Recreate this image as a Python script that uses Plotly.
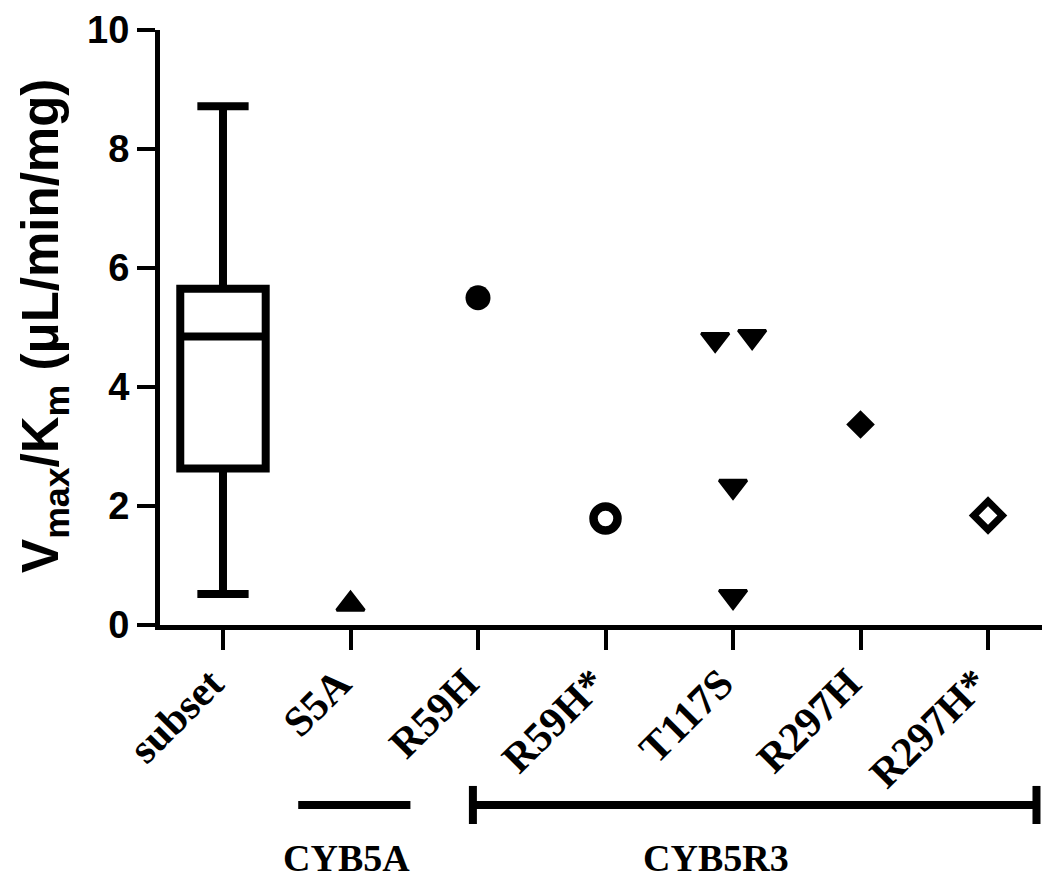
import plotly.graph_objects as go

# ---- data ----
categories = ["subset", "S5A", "R59H", "R59H*", "T117S", "R297H", "R297H*"]

# box summary for "subset"
box_lower = 0.52
box_q1 = 2.63
box_median = 4.85
box_q3 = 5.65
box_upper = 8.72

# individual variant points
s5a_vals = [0.35]
r59h_vals = [5.50]
r59hs_vals = [1.79]
t117s_vals = [4.80, 4.85, 2.33, 0.48]
t117s_jitter = [-0.14, 0.15, 0.0, 0.0]
r297h_vals = [3.37]
r297hs_vals = [1.84]

groups = ["CYB5A", "CYB5R3"]
group_start = [0.59, 1.96]
group_end = [1.47, 6.38]
group_label_x = [0.97, 3.87]
group_caps = [False, True]

serif = "Liberation Serif, Times New Roman, serif"
sans = "Liberation Sans, Arial, sans-serif"

fig = go.Figure()

fig.add_trace(go.Box(
    x=[0], q1=[box_q1], median=[box_median], q3=[box_q3],
    lowerfence=[box_lower], upperfence=[box_upper],
    width=0.67, whiskerwidth=0.6,
    line=dict(color="black", width=8), fillcolor="white",
    boxpoints=False, showlegend=False, hoverinfo="skip",
))

def idx(name):
    return categories.index(name)

def add_pts(name, vals, symbol, size, lw=0, jitter=None, fill="black"):
    i = idx(name)
    xs = [i + (jitter[k] if jitter else 0) for k in range(len(vals))]
    fig.add_trace(go.Scatter(
        x=xs, y=vals, mode="markers", showlegend=False,
        marker=dict(symbol=symbol, size=size, color=fill,
                    line=dict(color="black", width=lw)),
    ))

add_pts("S5A", s5a_vals, "triangle-up", 24, lw=3)
add_pts("R59H", r59h_vals, "circle", 25)
add_pts("R59H*", r59hs_vals, "circle-open", 24, lw=8.5)
add_pts("T117S", t117s_vals, "triangle-down", 24, lw=3, jitter=t117s_jitter)
add_pts("R297H", r297h_vals, "diamond", 22)
add_pts("R297H*", r297hs_vals, "diamond-open", 22, lw=7)

# group brackets under the axis
line_y = -0.3025
cap_half = 0.032
for g, s, e, lx, cap in zip(groups, group_start, group_end, group_label_x, group_caps):
    fig.add_shape(type="line", xref="x", yref="paper", x0=s, x1=e, y0=line_y, y1=line_y,
                  line=dict(color="black", width=8))
    if cap:
        for xx in (s, e):
            fig.add_shape(type="line", xref="x", yref="paper", x0=xx, x1=xx,
                          y0=line_y - cap_half, y1=line_y + cap_half,
                          line=dict(color="black", width=8))
    fig.add_annotation(text=g, xref="x", yref="paper", x=lx, y=-0.392,
                       showarrow=False, xanchor="center", yanchor="middle",
                       font=dict(family=serif, size=38, color="black", weight="bold"))

# y axis title
fig.add_annotation(text="V<sub>max</sub>/K<sub>m</sub> (μL/min/mg)",
                   xref="paper", yref="paper", x=-0.129, y=0.503,
                   textangle=-90, showarrow=False, xanchor="center", yanchor="middle",
                   font=dict(family=sans, size=51, color="black", weight="bold"))

# page body has an 8px margin; margins below compensate so the plot sits as in the reference
fig.update_layout(
    width=1050, height=879,
    margin=dict(l=152, r=8, t=22, b=262),
    paper_bgcolor="white", plot_bgcolor="white",
    xaxis=dict(
        range=[-0.494, 6.486], tickmode="array",
        tickvals=list(range(len(categories))), ticktext=categories,
        tickangle=-45, ticks="outside", ticklen=20, tickwidth=4, tickcolor="black",
        showline=True, linecolor="black", linewidth=5,
        showgrid=False, zeroline=False, automargin=False,
        ticklabelshift=-12, ticklabelstandoff=-8,
        tickfont=dict(family=serif, size=42, color="black", weight="bold"),
    ),
    yaxis=dict(
        range=[0, 10], tickmode="linear", tick0=0, dtick=2,
        ticks="outside", ticklen=18, tickwidth=4, tickcolor="black",
        showline=True, linecolor="black", linewidth=5,
        showgrid=False, zeroline=False, automargin=False,
        tickfont=dict(family=sans, size=38, color="black", weight="bold"),
    ),
)

fig.write_html("out.html")
